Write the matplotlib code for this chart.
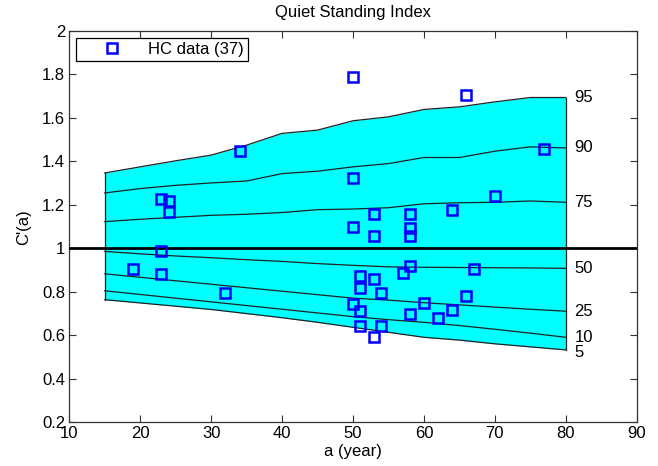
import matplotlib
matplotlib.use("Agg")
import matplotlib.pyplot as plt

plt.rcParams["font.family"] = ["Liberation Sans", "DejaVu Sans"]

# percentile bands vs age
age = [15, 20, 25, 30, 35, 40, 45, 50, 55, 60, 65, 70, 75, 80]
p95 = [1.347, 1.375, 1.403, 1.429, 1.475, 1.529, 1.544, 1.587, 1.605, 1.639, 1.651, 1.674, 1.694, 1.694]
p90 = [1.255, 1.275, 1.290, 1.301, 1.310, 1.344, 1.355, 1.375, 1.390, 1.418, 1.418, 1.447, 1.467, 1.462]
p75 = [1.123, 1.134, 1.143, 1.152, 1.157, 1.165, 1.178, 1.181, 1.187, 1.205, 1.210, 1.212, 1.218, 1.212]
p50 = [0.986, 0.975, 0.965, 0.957, 0.948, 0.940, 0.930, 0.922, 0.915, 0.913, 0.912, 0.911, 0.910, 0.908]
p25 = [0.883, 0.867, 0.851, 0.835, 0.819, 0.803, 0.787, 0.771, 0.762, 0.750, 0.740, 0.730, 0.720, 0.711]
p10 = [0.805, 0.788, 0.771, 0.754, 0.737, 0.720, 0.703, 0.686, 0.672, 0.660, 0.645, 0.628, 0.610, 0.591]
p05 = [0.764, 0.749, 0.734, 0.719, 0.700, 0.681, 0.660, 0.637, 0.614, 0.591, 0.578, 0.561, 0.547, 0.533]
pct_labels = ["95", "90", "75", "50", "25", "10", "5"]
pct_label_y = [1.694, 1.462, 1.212, 0.908, 0.711, 0.591, 0.522]

# healthy control measurements
hc_age = [50, 66, 34, 77, 50, 23, 24, 24, 53, 58, 64, 70, 50, 53, 58, 58, 23, 19, 23, 32,
          51, 53, 51, 54, 57, 58, 67, 50, 51, 60, 58, 62, 64, 66, 51, 54, 53]
hc_val = [1.788, 1.707, 1.449, 1.459, 1.323, 1.227, 1.218, 1.167, 1.160, 1.160, 1.178, 1.241,
          1.097, 1.055, 1.094, 1.055, 0.986, 0.906, 0.882, 0.794, 0.871, 0.860, 0.817, 0.794,
          0.889, 0.918, 0.903, 0.743, 0.714, 0.748, 0.699, 0.679, 0.717, 0.779, 0.644, 0.641,
          0.594]

fs = 12

fig = plt.figure(figsize=(6.58, 4.66), dpi=100)
ax = fig.add_axes([0.1053, 0.0938, 0.8623, 0.8397])

ax.fill_between(age, p05, p95, color="#00FFFF", linewidth=0, zorder=1)
for curve in [p95, p90, p75, p50, p25, p10, p05]:
    ax.plot(age, curve, color="#222222", linewidth=0.9, zorder=2)
ax.plot([age[0], age[0]], [p05[0], p95[0]], color="#222222", linewidth=0.9, zorder=2)
ax.plot([age[-1], age[-1]], [p05[-1], p95[-1]], color="#222222", linewidth=0.9, zorder=2)

ax.axhline(1.0, color="black", linewidth=2, zorder=3)

ax.plot(hc_age, hc_val, linestyle="none", marker="s", markersize=7,
        markerfacecolor="none", markeredgecolor="#0000FF", markeredgewidth=1.8,
        label="HC data (37)", zorder=4)

for label, yv in zip(pct_labels, pct_label_y):
    ax.text(81.2, yv, label, fontsize=fs, ha="left", va="center")

ax.set_xlim(10, 90)
ax.set_ylim(0.2, 2)
ax.set_xticks(range(10, 91, 10))
yticks = [0.2, 0.4, 0.6, 0.8, 1.0, 1.2, 1.4, 1.6, 1.8, 2.0]
ax.set_yticks(yticks)
ax.set_yticklabels(["0.2", "0.4", "0.6", "0.8", "1", "1.2", "1.4", "1.6", "1.8", "2"])
ax.tick_params(direction="in", top=True, right=True, labelsize=fs, length=5,
               color="#333333", pad=3)
for spine in ax.spines.values():
    spine.set_color("#333333")
    spine.set_linewidth(0.9)

ax.set_title("Quiet Standing Index", fontsize=fs, pad=10)
ax.set_xlabel("a (year)", fontsize=fs, labelpad=2)
ax.set_ylabel("C'(a)", fontsize=fs, labelpad=8)

leg = ax.legend(loc="upper left", fontsize=fs, fancybox=False, framealpha=1,
                edgecolor="black", borderaxespad=0.4, handletextpad=0.25,
                handlelength=3.8, borderpad=0.25)
leg.get_frame().set_linewidth(0.9)

fig.savefig("out.png", dpi=100)
